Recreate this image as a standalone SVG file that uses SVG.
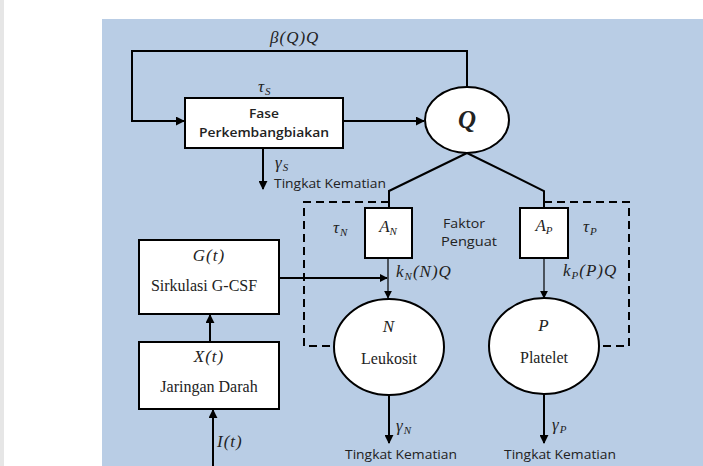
<svg xmlns="http://www.w3.org/2000/svg" width="703" height="466" viewBox="0 0 703 466">
<defs>
<marker id="ah" viewBox="0 0 10 10" refX="9" refY="5" markerWidth="9" markerHeight="9" markerUnits="userSpaceOnUse" orient="auto"><path d="M0,0 L10,5 L0,10 Z" fill="#000"/></marker>
<marker id="ahs" viewBox="0 0 10 10" refX="9" refY="5" markerWidth="8" markerHeight="8" markerUnits="userSpaceOnUse" orient="auto"><path d="M0,0 L10,5 L0,10 Z" fill="#000"/></marker>
</defs>
<style>
.box{fill:#fff;stroke:#000;stroke-width:2}
.ln{fill:none;stroke:#000;stroke-width:2}
.thin{fill:none;stroke:#000;stroke-width:1.2}
.dash{fill:none;stroke:#000;stroke-width:2;stroke-dasharray:8 5}
.sans{font-family:"Open Sans","Liberation Sans",sans-serif;font-size:13px;fill:#222}
.serif{font-family:"Liberation Serif","DejaVu Serif",serif;font-size:16px;fill:#222}
.math{font-family:"Liberation Serif","DejaVu Serif",serif;font-style:italic;font-size:17px;fill:#222;letter-spacing:1px}
.nosp{letter-spacing:0}
.big{font-size:25px;font-weight:bold;letter-spacing:0}
</style>
<rect x="0" y="0" width="703" height="466" fill="#fff"/>
<rect x="0" y="0" width="4" height="466" fill="#e6e6e6"/>
<rect x="102" y="19" width="601" height="447" fill="#b9cde5"/>

<g id="connectors">
<polyline class="ln" points="467,87 467,51 132,51 132,121 184,121" marker-end="url(#ah)"/>
<line class="ln" x1="343" y1="121" x2="424" y2="121" marker-end="url(#ah)"/>
<line class="ln" x1="263" y1="148" x2="263" y2="189" marker-end="url(#ah)"/>
<polyline class="ln" points="467,153 389,191 389,208"/>
<polyline class="ln" points="467,153 544,191 544,208"/>
<polyline class="dash" points="389,202 304,202 304,346 334,346"/>
<polyline class="dash" points="544,202 629,202 629,346 599,346"/>
<line class="thin" x1="388" y1="258" x2="388" y2="298" marker-end="url(#ahs)"/>
<line class="thin" x1="544" y1="258" x2="544" y2="298" marker-end="url(#ahs)"/>
<line class="ln" x1="279" y1="278" x2="387" y2="278" marker-end="url(#ahs)"/>
<line class="ln" x1="210" y1="342" x2="210" y2="315" marker-end="url(#ah)"/>
<line class="ln" x1="213" y1="466" x2="213" y2="410" marker-end="url(#ah)"/>
<line class="ln" x1="389" y1="395" x2="389" y2="443" marker-end="url(#ah)"/>
<line class="ln" x1="544" y1="394" x2="544" y2="443" marker-end="url(#ah)"/>
</g>

<g id="labels">
<text class="math" x="270" y="43">β(Q)Q</text>
<text class="math" x="258" y="92">τ<tspan font-size="11" dy="3">S</tspan></text>
<text class="math" x="275" y="168">γ<tspan font-size="11" dy="3">S</tspan></text>
<text class="sans" x="274" y="188" textLength="112" lengthAdjust="spacingAndGlyphs">Tingkat Kematian</text>
<text class="math" x="333" y="233">τ<tspan font-size="11" dy="3">N</tspan></text>
<text class="math" x="583" y="232">τ<tspan font-size="11" dy="3">P</tspan></text>
<text class="sans" x="443" y="228" textLength="42" lengthAdjust="spacingAndGlyphs">Faktor</text>
<text class="sans" x="441" y="246" textLength="56" lengthAdjust="spacingAndGlyphs">Penguat</text>
<text class="math" x="396" y="277">k<tspan font-size="11" dy="3">N</tspan><tspan dy="-3">(N)Q</tspan></text>
<text class="math" x="563" y="276">k<tspan font-size="11" dy="3">P</tspan><tspan dy="-3">(P)Q</tspan></text>
<text class="math" x="217" y="447">I(t)</text>
<text class="math" x="396" y="431">γ<tspan font-size="11" dy="3">N</tspan></text>
<text class="math" x="552" y="430">γ<tspan font-size="11" dy="3">P</tspan></text>
<text class="sans" x="345" y="459" textLength="112" lengthAdjust="spacingAndGlyphs">Tingkat Kematian</text>
<text class="sans" x="504" y="459" textLength="112" lengthAdjust="spacingAndGlyphs">Tingkat Kematian</text>
</g>

<g id="fase">
<rect class="box" x="185" y="98" width="158" height="50"/>
<text class="sans" x="264" y="118" text-anchor="middle" font-weight="600" textLength="30" lengthAdjust="spacingAndGlyphs">Fase</text>
<text class="sans" x="264" y="137" text-anchor="middle" font-weight="600" textLength="130" lengthAdjust="spacingAndGlyphs">Perkembangbiakan</text>
</g>

<g id="q">
<ellipse class="box" cx="467" cy="120" rx="42" ry="33"/>
<text class="math big" x="467" y="128" text-anchor="middle">Q</text>
</g>

<g id="an">
<rect class="box" x="365" y="208" width="47" height="50"/>
<text class="math nosp" x="388" y="232" text-anchor="middle">A<tspan font-size="11" dy="3">N</tspan></text>
</g>

<g id="ap">
<rect class="box" x="520" y="208" width="48" height="50"/>
<text class="math nosp" x="544" y="231" text-anchor="middle">A<tspan font-size="11" dy="3">P</tspan></text>
</g>

<g id="g">
<rect class="box" x="139" y="240" width="140" height="74"/>
<text class="math" x="209" y="261" text-anchor="middle">G(t)</text>
<text class="serif" x="204" y="291" text-anchor="middle">Sirkulasi G-CSF</text>
</g>

<g id="x">
<rect class="box" x="139" y="342" width="140" height="67"/>
<text class="math" x="209" y="362" text-anchor="middle">X(t)</text>
<text class="serif" x="209" y="392" text-anchor="middle">Jaringan Darah</text>
</g>

<g id="n">
<ellipse class="box" cx="389" cy="347" rx="55" ry="48"/>
<text class="math" x="389" y="332" text-anchor="middle">N</text>
<text class="serif" x="389" y="364" text-anchor="middle">Leukosit</text>
</g>

<g id="p">
<ellipse class="box" cx="544" cy="346" rx="55" ry="48"/>
<text class="math" x="544" y="331" text-anchor="middle">P</text>
<text class="serif" x="544" y="363" text-anchor="middle">Platelet</text>
</g>
</svg>
